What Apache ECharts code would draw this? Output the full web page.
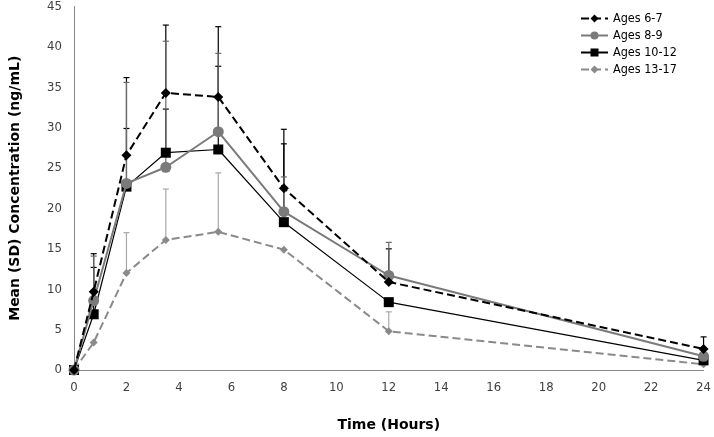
<!DOCTYPE html>
<html><head><meta charset="utf-8">
<script src="https://cdn.jsdelivr.net/npm/echarts@6/dist/echarts.min.js"></script>
<style>html,body{margin:0;padding:0;background:#fff}#c{width:714px;height:437px}</style>
</head><body><div id="c"></div>
<script>
const times = [0, 0.75, 2, 3.5, 5.5, 8, 12, 24];
const seriesNames = ['Ages 6-7', 'Ages 8-9', 'Ages 10-12', 'Ages 13-17'];
const ages67 = [0, 9.7, 26.6, 34.3, 33.8, 22.5, 10.9, 2.6];
const ages89 = [0, 8.6, 23.1, 25.1, 29.5, 19.6, 11.7, 1.7];
const ages1012 = [0, 6.9, 22.7, 26.9, 27.3, 18.3, 8.4, 1.2];
const ages1317 = [0, 3.4, 12.0, 16.1, 17.1, 14.9, 4.8, 0.7];
// upper end of SD error bars (null = not visible)
const upper67 = [null, 14.4, 36.2, 42.7, 42.5, 29.8, 15.0, 4.1];
const upper89 = [null, 14.1, 35.6, 40.7, 39.2, 23.9, 15.8, null];
const upper1012 = [null, 12.7, 29.9, 32.3, 37.6, 28.0, null, null];
const upper1317 = [null, null, 17.0, 22.4, 24.4, null, 7.2, null];
const xTicks = [0, 2, 4, 6, 8, 10, 12, 14, 16, 18, 20, 22, 24];
const yTicks = [0, 5, 10, 15, 20, 25, 30, 35, 40, 45];

const font = 'DejaVu Sans';
const fontC = 'DejaVu Sans Condensed, DejaVu Sans';
const chart = echarts.init(document.getElementById('c'));

function pairs(vals){ return times.map((t,i)=>[t, vals[i]]); }
function errData(vals, ups){
  const d=[]; times.forEach((t,i)=>{ if(ups[i]!=null) d.push([t, vals[i], ups[i]]); }); return d;
}
function errSeries(vals, ups, color, z){
  return {
    type:'custom', z:z, silent:true,
    data: errData(vals, ups),
    encode:{x:0,y:[1,2]},
    renderItem:function(params, api){
      const p0 = api.coord([api.value(0), api.value(1)]);
      const p1 = api.coord([api.value(0), api.value(2)]);
      const w = 3;
      return {type:'group', children:[
        {type:'line', shape:{x1:p0[0],y1:p0[1],x2:p1[0],y2:p1[1]}, style:{stroke:color,lineWidth:1.2}},
        {type:'line', shape:{x1:p1[0]-w,y1:p1[1],x2:p1[0]+w,y2:p1[1]}, style:{stroke:color,lineWidth:1.2}}
      ]};
    }
  };
}

const styles = [
  {color:'#000000', type:'dashed', width:2, symbol:'diamond', size:10},
  {color:'#7a7a7a', type:'solid', width:2, symbol:'circle', size:11},
  {color:'#000000', type:'solid', width:1.2, symbol:'rect', size:10},
  {color:'#8a8a8a', type:'dashed', width:2, symbol:'diamond', size:8}
];
const allVals = [ages67, ages89, ages1012, ages1317];
const lineSeries = allVals.map((v,i)=>({
  name: seriesNames[i], type:'line', data: pairs(v), z: 5 + (3-i),
  symbol: styles[i].symbol, symbolSize: styles[i].size, showSymbol:true,
  itemStyle:{color: styles[i].color},
  lineStyle:{color: styles[i].color, type: styles[i].type, width: styles[i].width},
  animation:false
}));

chart.setOption({
  animation:false,
  grid:{left:74, right:8, top:5, bottom:64},
  legend:{
    orient:'vertical', left:575, top:7, itemWidth:27, itemHeight:10, itemGap:4, align:'left',
    data: seriesNames,
    textStyle:{fontFamily:fontC, fontSize:12.5, color:'#000'}
  },
  xAxis:{
    type:'value', min:0, max:24, interval:2,
    name:'Time (Hours)', nameLocation:'middle', nameGap:48,
    nameTextStyle:{fontFamily:font, fontWeight:'bold', fontSize:14, color:'#000'},
    axisLine:{lineStyle:{color:'#888', width:1}},
    axisTick:{show:false}, splitLine:{show:false},
    axisLabel:{fontFamily:fontC, fontSize:13, color:'#404040', margin:11}
  },
  yAxis:{
    type:'value', min:0, max:45, interval:5,
    name:'Mean (SD) Concentration (ng/mL)', nameLocation:'middle', nameGap:52,
    nameTextStyle:{fontFamily:font, fontWeight:'bold', fontSize:14, color:'#000'},
    axisLine:{show:true, lineStyle:{color:'#888', width:1}},
    axisTick:{show:false}, splitLine:{show:false},
    axisLabel:{fontFamily:fontC, fontSize:13, color:'#404040', margin:12}
  },
  series:[
    errSeries(ages1317, upper1317, '#a8a8a8', 1),
    errSeries(ages1012, upper1012, '#000000', 2),
    errSeries(ages89, upper89, '#6a6a6a', 3),
    errSeries(ages67, upper67, '#000000', 2),
    ...lineSeries
  ]
});
</script></body></html>
